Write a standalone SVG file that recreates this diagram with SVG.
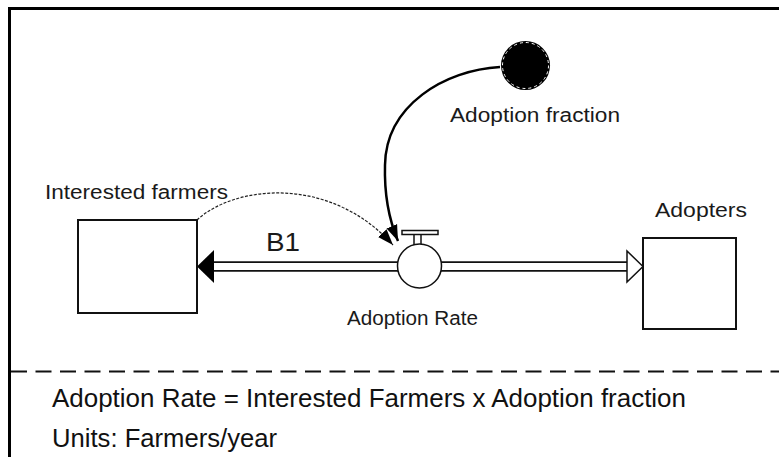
<svg xmlns="http://www.w3.org/2000/svg" width="779" height="457" viewBox="0 0 779 457">
<style>
.lbl{font-family:"Liberation Sans",Arial,sans-serif;font-size:20px;fill:#1a1a1a}
.eq{font-family:"Liberation Sans",Arial,sans-serif;font-size:25px;fill:#111}
.stock{fill:#fff;stroke:#111;stroke-width:2}
</style>
<defs>
<marker id="ah" viewBox="0 0 14 10" refX="14" refY="5" markerWidth="16" markerHeight="12" markerUnits="userSpaceOnUse" orient="auto">
<path d="M0,0 L14,5 L0,10 z" fill="#000"/>
</marker>
</defs>
<rect width="779" height="457" fill="#fff"/>
<path d="M9.5,457 V8.5 H779" fill="none" stroke="#000" stroke-width="3"/>
<line x1="11" y1="371.5" x2="779" y2="371.5" stroke="#111" stroke-width="2" stroke-dasharray="16,8.5"/>

<g id="connectors">
<g id="flow-pipe">
<line x1="205" y1="266.5" x2="630" y2="266.5" stroke="#111" stroke-width="10.5"/>
<line x1="200" y1="266.5" x2="632" y2="266.5" stroke="#fff" stroke-width="7"/>
<path d="M197,266.5 L214,250 L214,283 z" fill="#000"/>
<path d="M643,266.5 L627,251 L627,282 z" fill="#fff" stroke="#111" stroke-width="1.5"/>
</g>
<path id="link-farmers" d="M197,220 C235,185 330,175 393,245" fill="none" stroke="#222" stroke-width="1.2" stroke-dasharray="3,1.5" marker-end="url(#ah)"/>
<path id="link-fraction" d="M500,67 C445,70 386,105 385,165 C384,200 390,222 398,241" fill="none" stroke="#000" stroke-width="2.5" marker-end="url(#ah)"/>
</g>

<g id="interested-farmers">
<rect class="stock" x="78" y="220" width="119" height="93"/>
<text class="lbl" x="45" y="199" textLength="183" lengthAdjust="spacingAndGlyphs">Interested farmers</text>
</g>

<g id="adopters">
<rect class="stock" x="643" y="238" width="93" height="91"/>
<text class="lbl" x="655" y="217" textLength="92" lengthAdjust="spacingAndGlyphs">Adopters</text>
</g>

<g id="adoption-rate">
<rect x="402" y="230.5" width="36" height="4" fill="#fff" stroke="#111" stroke-width="1.5"/>
<line x1="414" y1="234.5" x2="414" y2="245" stroke="#111" stroke-width="1.5"/>
<line x1="421" y1="234.5" x2="421" y2="245" stroke="#111" stroke-width="1.5"/>
<circle cx="419.5" cy="266" r="22" fill="#fff" stroke="#111" stroke-width="1.5"/>
<text class="lbl" x="347" y="325" textLength="131" lengthAdjust="spacingAndGlyphs">Adoption Rate</text>
</g>

<g id="adoption-fraction">
<circle cx="525.5" cy="65.5" r="24.5" fill="#000"/>
<circle cx="525.5" cy="65.5" r="23" fill="none" stroke="#fff" stroke-width="1" stroke-dasharray="3,3"/>
<text class="lbl" x="450" y="122" textLength="170" lengthAdjust="spacingAndGlyphs">Adoption fraction</text>
</g>

<g id="loop-b1">
<text class="lbl" x="266" y="251" style="font-size:26px" textLength="34" lengthAdjust="spacingAndGlyphs">B1</text>
</g>

<g id="notes">
<text class="eq" x="52" y="407" textLength="634" lengthAdjust="spacingAndGlyphs">Adoption Rate = Interested Farmers x Adoption fraction</text>
<text class="eq" x="52" y="447" textLength="225" lengthAdjust="spacingAndGlyphs">Units: Farmers/year</text>
</g>
</svg>
